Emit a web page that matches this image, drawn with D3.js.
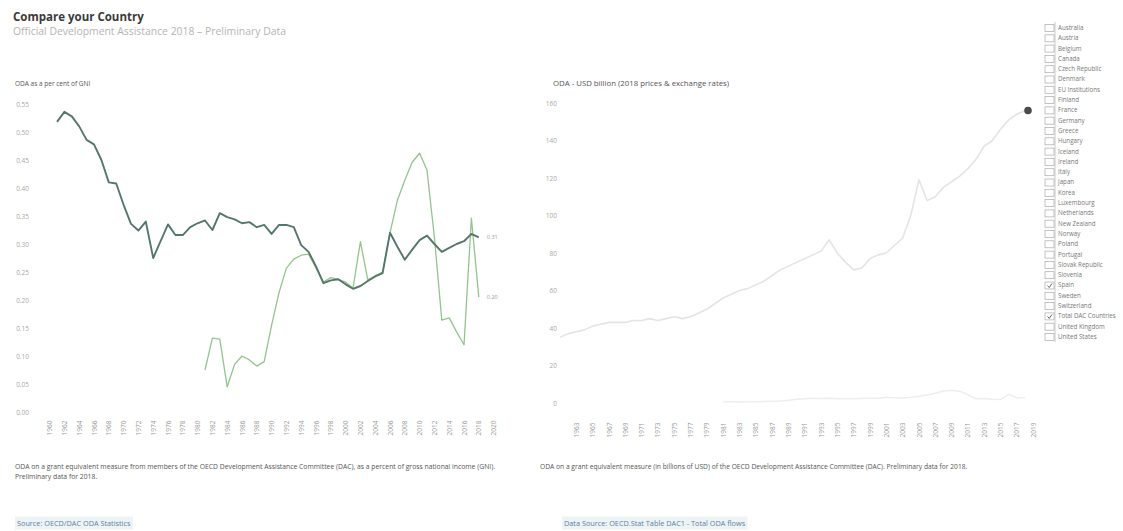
<!DOCTYPE html>
<html>
<head>
<meta charset="utf-8">
<script src="https://cdn.jsdelivr.net/npm/d3@7"></script>
<style>
  body { margin: 0; background: #fff; font-family: "Open Sans", "Noto Sans", sans-serif; }
  svg text { font-family: "Open Sans", "Noto Sans", sans-serif; }
</style>
</head>
<body>
<div id="chart"></div>
<script>
// ---- data ----
var pctYears = d3.range(1961, 2019);
// Total DAC ODA/GNI (%)
var pctTotal = [0.518, 0.536, 0.528, 0.51, 0.486, 0.478, 0.45, 0.41, 0.408, 0.37,
                0.336, 0.324, 0.34, 0.275, 0.305, 0.335, 0.316, 0.316, 0.33, 0.337,
                0.342, 0.325, 0.355, 0.348, 0.344, 0.337, 0.339, 0.33, 0.334, 0.318,
                0.334, 0.334, 0.33, 0.298, 0.286, 0.26, 0.23, 0.235, 0.237, 0.228,
                0.22, 0.225, 0.234, 0.242, 0.248, 0.32, 0.295, 0.272, 0.29, 0.307,
                0.315, 0.30, 0.286, 0.293, 0.30, 0.305, 0.318, 0.312];
// Spain ODA/GNI (%), from 1981
var spainStart = 1981;
var pctSpain = [0.075, 0.132, 0.13, 0.045, 0.085, 0.10, 0.093, 0.082, 0.09, 0.155,
                0.213, 0.257, 0.273, 0.28, 0.282, 0.257, 0.232, 0.24, 0.237, 0.232,
                0.221, 0.304, 0.236, 0.243, 0.25, 0.32, 0.378, 0.414, 0.446, 0.462,
                0.432, 0.312, 0.164, 0.168, 0.143, 0.12, 0.346, 0.205];
var pctTicks = [0, 0.05, 0.1, 0.15, 0.2, 0.25, 0.3, 0.35, 0.4, 0.45, 0.5, 0.55];

// ODA in USD billion (2018 prices)
var usdTotal = [35, 37, 38, 39, 41, 42, 43, 43, 43, 44,
                44, 45, 44, 45, 46, 45, 46, 48, 50, 53,
                56, 58, 60, 61, 63, 65, 68, 71, 73, 75,
                77, 79, 81, 87, 80, 75, 71, 72, 77, 79,
                80, 84, 88, 100, 119, 108, 110, 115, 118, 121,
                125, 130, 137, 140, 146, 151, 154, 156];
var usdSpain = [0.6, 0.7, 0.5, 0.6, 0.7, 0.8, 0.9, 1.0, 1.5, 2.0,
                2.3, 2.5, 2.4, 2.5, 2.3, 2.3, 2.3, 2.4, 2.5, 2.5,
                3.0, 2.8, 2.7, 3.0, 3.6, 4.3, 5.2, 6.4, 6.8, 6.3,
                4.3, 2.3, 2.4, 2.0, 1.8, 4.7, 2.7, 2.9];
var usdTicks = [0, 20, 40, 60, 80, 100, 120, 140, 160];

var leftTickYears = d3.range(1960, 2021, 2);
var rightTickYears = d3.range(1963, 2020, 2);

var countries = ["Australia", "Austria", "Belgium", "Canada", "Czech Republic", "Denmark",
  "EU Institutions", "Finland", "France", "Germany", "Greece", "Hungary", "Iceland",
  "Ireland", "Italy", "Japan", "Korea", "Luxembourg", "Netherlands", "New Zealand",
  "Norway", "Poland", "Portugal", "Slovak Republic", "Slovenia", "Spain", "Sweden",
  "Switzerland", "Total DAC Countries", "United Kingdom", "United States"];
var selected = ["Spain", "Total DAC Countries"];

var width = 1123, height = 531;
var darkColor = "#55766a", greenColor = "#93c48e";

var svg = d3.select("#chart").append("svg")
  .attr("width", width).attr("height", height);

svg.append("rect").attr("width", width).attr("height", height).attr("fill", "#fff");

// titles
svg.append("text").attr("x", 13).attr("y", 21)
  .style("font-size", "11.5px").style("font-weight", "bold").attr("fill", "#3a3a3a")
  .text("Compare your Country");
svg.append("text").attr("x", 13).attr("y", 35)
  .style("font-size", "10.4px").attr("fill", "#b4b4b4")
  .text("Official Development Assistance 2018 \u2013 Preliminary Data");

function spainSeries(vals) {
  return vals.map(function(v, i) { return {year: spainStart + i, value: v}; });
}
function totalSeries(vals) {
  return vals.map(function(v, i) { return {year: pctYears[i], value: v}; });
}

function drawYearAxis(g, x, y0, ticks) {
  var ax = g.append("g").attr("transform", "translate(0," + y0 + ")")
    .call(d3.axisBottom(x).tickValues(ticks).tickSize(0).tickFormat(d3.format("d")));
  ax.select(".domain").remove();
  ax.selectAll("text")
    .attr("transform", "rotate(-90)")
    .attr("x", -14).attr("y", 0).attr("dy", "0.32em")
    .style("text-anchor", "middle")
    .style("font-size", "6.5px").attr("fill", "#9a9a9a");
}

// ---- left chart: ODA as % of GNI ----
(function() {
  var x = d3.scaleLinear().domain([1961, 2018]).range([57, 478.8]);
  var y = d3.scaleLinear().domain([0, 0.56]).range([412, 98.4]);
  var g = svg.append("g");

  g.append("text").attr("x", 15).attr("y", 86)
    .style("font-size", "6.5px").attr("fill", "#555")
    .text("ODA as a per cent of GNI");

  var yAx = g.append("g").attr("transform", "translate(32,0)")
    .call(d3.axisLeft(y).tickValues(pctTicks).tickSize(0).tickFormat(d3.format(".2f")));
  yAx.select(".domain").remove();
  yAx.selectAll("text").style("font-size", "6.5px").attr("fill", "#a8a8a8");

  drawYearAxis(g, x, 414, leftTickYears);

  var line = d3.line().x(function(d) { return x(d.year); }).y(function(d) { return y(d.value); });

  var tot = totalSeries(pctTotal), sp = spainSeries(pctSpain);
  g.append("path").datum(sp).attr("d", line)
    .attr("fill", "none").attr("stroke", greenColor).attr("stroke-width", 1.3)
    .attr("stroke-linejoin", "round");
  g.append("path").datum(tot).attr("d", line)
    .attr("fill", "none").attr("stroke", darkColor).attr("stroke-width", 1.9)
    .attr("stroke-linejoin", "round");

  [tot[tot.length - 1], sp[sp.length - 1]].forEach(function(d) {
    g.append("text").attr("x", x(d.year) + 8).attr("y", y(d.value)).attr("dy", "0.32em")
      .style("font-size", "5.5px").attr("fill", "#999")
      .text(d3.format(".2f")(d.value));
  });

  g.append("text").attr("x", 15).attr("y", 469)
    .style("font-size", "6.8px").attr("fill", "#555")
    .text("ODA on a grant equivalent measure from members of the OECD Development Assistance Committee (DAC), as a percent of gross national income (GNI).");
  g.append("text").attr("x", 15).attr("y", 479)
    .style("font-size", "6.8px").attr("fill", "#555")
    .text("Preliminary data for 2018.");
})();

// ---- right chart: ODA in USD billion ----
(function() {
  var x = d3.scaleLinear().domain([1961, 2018]).range([560, 1025]);
  var y = d3.scaleLinear().domain([0, 160]).range([403, 103]);
  var g = svg.append("g");

  g.append("text").attr("x", 553).attr("y", 86)
    .style("font-size", "7.8px").attr("fill", "#555")
    .text("ODA - USD billion (2018 prices & exchange rates)");

  var yAx = g.append("g").attr("transform", "translate(560,0)")
    .call(d3.axisLeft(y).tickValues(usdTicks).tickSize(0).tickFormat(d3.format("d")));
  yAx.select(".domain").remove();
  yAx.selectAll("text").style("font-size", "6.5px").attr("fill", "#a8a8a8");

  drawYearAxis(g, x, 416, rightTickYears);

  var line = d3.line().x(function(d) { return x(d.year); }).y(function(d) { return y(d.value); });
  var tot = totalSeries(usdTotal), sp = spainSeries(usdSpain);

  g.append("path").datum(sp).attr("d", line)
    .attr("fill", "none").attr("stroke", "#e9efe9").attr("stroke-width", 1.4);
  g.append("path").datum(tot).attr("d", line)
    .attr("fill", "none").attr("stroke", "#e4e4e4").attr("stroke-width", 1.6)
    .attr("stroke-linejoin", "round");

  var last = tot[tot.length - 1];
  g.append("circle").attr("cx", x(last.year) + 3).attr("cy", y(last.value))
    .attr("r", 3.8).attr("fill", "#4a4a4a");

  g.append("text").attr("x", 540).attr("y", 469)
    .style("font-size", "6.7px").attr("fill", "#555")
    .text("ODA on a grant equivalent measure (in billions of USD) of the OECD Development Assistance Committee (DAC). Preliminary data for 2018.");
})();

// ---- source links ----
[[15, "Source: OECD/DAC ODA Statistics"], [562, "Data Source: OECD.Stat Table DAC1 - Total ODA flows"]]
  .forEach(function(s) {
    var t = svg.append("text").attr("x", s[0] + 2).attr("y", 526)
      .style("font-size", "7.3px").attr("fill", "#5a7fa0").text(s[1]);
    var bb = t.node().getBBox();
    svg.insert("rect", function() { return t.node(); })
      .attr("x", bb.x - 2).attr("y", bb.y - 1.5).attr("width", bb.width + 4).attr("height", bb.height + 3)
      .attr("fill", "#eef4f6");
  });

// ---- country filter list ----
(function() {
  var ly = d3.scalePoint().domain(countries).range([28, 337]);
  var g = svg.append("g");
  g.append("line").attr("x1", 1055).attr("x2", 1055).attr("y1", 22).attr("y2", 342)
    .attr("stroke", "#bbb").attr("stroke-width", 0.8);
  var item = g.selectAll("g.item").data(countries).enter().append("g")
    .attr("transform", function(d) { return "translate(0," + ly(d) + ")"; });
  item.append("rect").attr("x", 1045).attr("y", -3.5).attr("width", 9).attr("height", 7)
    .attr("fill", "#fff").attr("stroke", "#aaa").attr("stroke-width", 0.7);
  item.filter(function(d) { return selected.indexOf(d) >= 0; })
    .append("path").attr("d", "M1047.5,0 L1049.3,2 L1052,-2")
    .attr("fill", "none").attr("stroke", "#555").attr("stroke-width", 0.9);
  item.append("text").attr("x", 1058).attr("y", 0).attr("dy", "0.32em")
    .style("font-size", "6.2px").attr("fill", "#777")
    .text(function(d) { return d; });
})();
</script>
</body>
</html>
